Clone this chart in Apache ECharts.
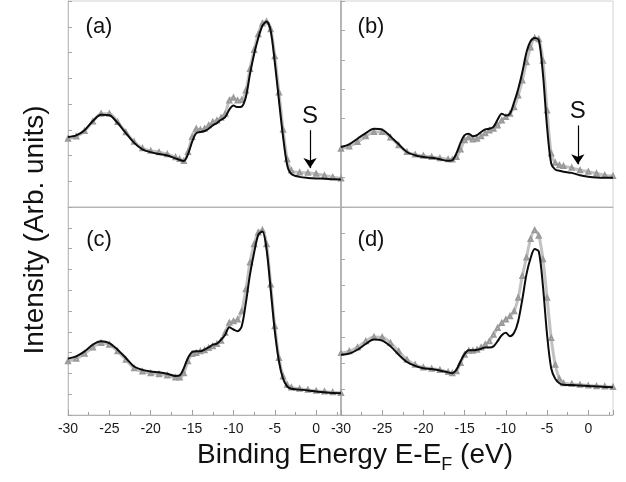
<!DOCTYPE html>
<html>
<head>
<meta charset="utf-8">
<script src="https://cdn.jsdelivr.net/npm/echarts@6/dist/echarts.min.js"></script>
<style>
html,body{margin:0;padding:0;background:#fff;}
#chart{width:626px;height:482px;}
</style>
</head>
<body>
<div id="chart"></div>
<script>
// Binding energies (eV)
var energies = [-30,-29,-28,-27,-26,-25,-24,-23,-22,-21,-20,-19,-18,-17,-16.5,-16,-15.5,-15,-14.5,-14,-13.5,-13,-12.5,-12,-11.5,-11,-10.5,-10,-9.5,-9,-8.5,-8,-7.5,-7,-6.5,-6,-5.5,-5,-4.5,-4,-3.5,-3,-2,-1,0,1,2,3];

// Panel (a)
var aBlack = [2.72,2.78,2.98,3.34,3.58,3.56,3.26,2.87,2.49,2.24,2.13,2.06,2.00,1.89,1.83,1.79,2.05,2.53,2.87,2.91,2.95,3.04,3.17,3.26,3.39,3.49,3.78,3.94,3.88,3.90,4.27,5.17,5.94,6.56,7.04,7.20,6.84,5.62,4.14,2.72,1.62,1.28,1.17,1.13,1.11,1.10,1.08,1.07];
var aGrey  = [2.65,2.74,2.95,3.32,3.62,3.62,3.30,2.90,2.53,2.28,2.18,2.13,2.05,1.93,1.86,1.79,2.14,2.72,3.04,3.00,3.04,3.17,3.30,3.36,3.47,3.62,4.14,4.24,4.14,4.16,4.52,5.36,6.10,6.71,7.13,7.20,6.90,5.85,4.45,3.00,1.85,1.42,1.34,1.33,1.29,1.22,1.16,1.11];

// Panel (b)
var bBlack = [2.04,2.13,2.32,2.51,2.66,2.63,2.40,2.13,1.87,1.76,1.70,1.67,1.62,1.57,1.59,1.82,2.18,2.44,2.49,2.40,2.44,2.55,2.64,2.66,2.72,2.97,3.17,3.11,3.17,3.56,4.01,4.58,5.25,5.63,5.74,5.67,4.52,2.72,1.48,1.27,1.23,1.20,1.16,1.08,1.03,1.00,0.99,0.99];
var bGrey  = [1.98,2.06,2.21,2.40,2.55,2.55,2.36,2.10,1.87,1.78,1.74,1.70,1.66,1.62,1.61,1.70,1.95,2.27,2.36,2.29,2.32,2.40,2.51,2.60,2.66,2.77,2.94,3.06,3.17,3.39,3.79,4.30,4.92,5.42,5.74,5.70,4.97,3.28,1.82,1.50,1.42,1.39,1.33,1.25,1.20,1.14,1.08,1.05];

// Panel (c)
var cBlack = [2.71,2.82,3.06,3.38,3.54,3.46,3.14,2.74,2.33,2.17,2.09,2.05,1.98,1.88,1.90,2.25,2.74,3.03,3.06,3.06,3.14,3.25,3.38,3.43,3.62,3.86,4.22,4.11,4.03,4.27,5.39,6.76,7.81,8.66,8.82,7.97,6.04,4.03,2.58,1.74,1.37,1.26,1.22,1.18,1.13,1.09,1.06,1.05];
var cGrey  = [2.58,2.71,2.95,3.25,3.46,3.38,3.06,2.66,2.25,2.09,2.01,1.96,1.90,1.80,1.80,2.01,2.58,2.93,2.98,3.06,3.11,3.22,3.30,3.41,3.57,3.95,4.43,4.51,4.59,4.99,6.04,7.33,8.21,8.78,8.89,8.21,6.28,4.27,2.74,1.85,1.45,1.32,1.26,1.21,1.16,1.13,1.09,1.06];

// Panel (d)
var dBlack = [2.32,2.36,2.51,2.73,2.90,2.86,2.64,2.32,2.04,1.89,1.80,1.77,1.71,1.64,1.61,1.74,2.06,2.35,2.49,2.49,2.51,2.55,2.60,2.60,2.64,2.84,3.07,3.16,3.03,3.16,3.61,4.45,5.41,6.03,6.38,6.29,4.96,3.09,1.80,1.39,1.22,1.16,1.15,1.13,1.12,1.10,1.08,1.07];
var dGrey  = [2.38,2.45,2.60,2.84,3.00,2.99,2.77,2.45,2.13,1.93,1.83,1.78,1.73,1.65,1.61,1.68,2.00,2.32,2.47,2.47,2.51,2.60,2.71,2.84,3.09,3.35,3.54,3.67,3.80,3.99,4.51,5.35,6.06,6.77,7.11,6.89,5.99,4.51,2.96,1.93,1.39,1.22,1.19,1.16,1.13,1.11,1.10,1.08];

var panelLabels = ['(a)','(b)','(c)','(d)'];
var yMaxes = [8,7,10,8];

var FONT = '"Liberation Sans", Arial, sans-serif';
var chart = echarts.init(document.getElementById('chart'), null, {renderer:'canvas'});

function pairs(arr){ return energies.map(function(e,i){ return [e, arr[i]]; }); }

var grids = [
  {left:68, top:1, width:273, height:206},
  {left:341, top:1, width:272, height:206},
  {left:68, top:207, width:273, height:208},
  {left:341, top:207, width:272, height:208}
];
grids.forEach(function(g){ g.show = true; g.borderColor = '#d2d2d2'; g.borderWidth = 1; g.backgroundColor = 'transparent'; });

var xAxes = [], yAxes = [];
for (var i = 0; i < 4; i++) {
  var bottom = i >= 2;
  xAxes.push({
    type:'value', gridIndex:i, min:-30, max:3, interval:5,
    axisLine:{show:true, onZero:false, lineStyle:{color:'#b4b4b4', width:1}},
    axisTick:{show:bottom, inside:true, length:5, lineStyle:{color:'#a0a0a0'}},
    minorTick:{show:bottom, splitNumber:2, length:3, lineStyle:{color:'#a0a0a0'}},
    axisLabel:{show:bottom, color:'#1a1a1a', fontSize:14, fontFamily:FONT, margin:7, showMaxLabel:false},
    splitLine:{show:false}
  });
  yAxes.push({
    type:'value', gridIndex:i, min:0, max:yMaxes[i], interval:1,
    axisLine:{show:true, onZero:false, lineStyle:{color:(i%2===1)?'#a8a8a8':'#c0c0c0', width:(i%2===1)?1.5:1}},
    axisTick:{show:true, inside:true, length:4, lineStyle:{color:'#a8a8a8'}},
    axisLabel:{show:false},
    splitLine:{show:false}
  });
}

var greySets = [aGrey,bGrey,cGrey,dGrey];
var blackSets = [aBlack,bBlack,cBlack,dBlack];
var series = [];
for (var k = 0; k < 4; k++) {
  series.push({
    type:'line', xAxisIndex:k, yAxisIndex:k, data:pairs(greySets[k]),
    smooth:0.3, symbol:'emptyTriangle', symbolSize:4, showSymbol:true,
    itemStyle:{color:'#9a9a9a', borderWidth:0.8},
    lineStyle:{color:'#c2c2c2', width:3},
    animation:false, z:2
  });
  var s = {
    type:'line', xAxisIndex:k, yAxisIndex:k, data:pairs(blackSets[k]),
    smooth:0.3, showSymbol:false, symbol:'none',
    lineStyle:{color:'#0c0c0c', width:2},
    animation:false, z:3
  };
  if (k === 0) {
    s.markLine = {silent:true, symbol:['none','arrow'], symbolSize:10, animation:false,
      lineStyle:{color:'#000', width:1.2, type:'solid'},
      label:{show:true, position:'start', formatter:'S', fontSize:24, color:'#111', fontFamily:FONT, distance:2},
      data:[[{coord:[-0.74,2.98]},{coord:[-0.74,1.51]}]]};
  }
  if (k === 1) {
    s.markLine = {silent:true, symbol:['none','arrow'], symbolSize:10, animation:false,
      lineStyle:{color:'#000', width:1.2, type:'solid'},
      label:{show:true, position:'start', formatter:'S', fontSize:24, color:'#111', fontFamily:FONT, distance:2},
      data:[[{coord:[-1.27,2.77]},{coord:[-1.27,1.45]}]]};
  }
  series.push(s);
}

var labelPos = [[99,27],[371,27],[99,240],[371,240]];
var graphics = panelLabels.map(function(t,i){
  return {type:'text', x:labelPos[i][0], y:labelPos[i][1], silent:true,
    style:{text:t, fontSize:22, fontFamily:FONT, fill:'#111', align:'center', verticalAlign:'middle'}};
});
graphics.push({type:'text', x:35, y:230, rotation:Math.PI/2, silent:true,
  style:{text:'Intensity (Arb. units)', fontSize:28, fontFamily:FONT, fill:'#111', align:'center', verticalAlign:'middle'}});
graphics.push({type:'text', x:355, y:455, silent:true,
  style:{text:'Binding Energy E-E{sub|F} (eV)', fontSize:28, fontFamily:FONT, fill:'#111', align:'center', verticalAlign:'middle',
    rich:{sub:{fontSize:18, fontFamily:FONT, fill:'#111', padding:[20,0,0,0]}}}});

chart.setOption({
  animation:false,
  backgroundColor:'#fff',
  grid:grids, xAxis:xAxes, yAxis:yAxes, series:series, graphic:graphics
});
</script>
</body>
</html>
